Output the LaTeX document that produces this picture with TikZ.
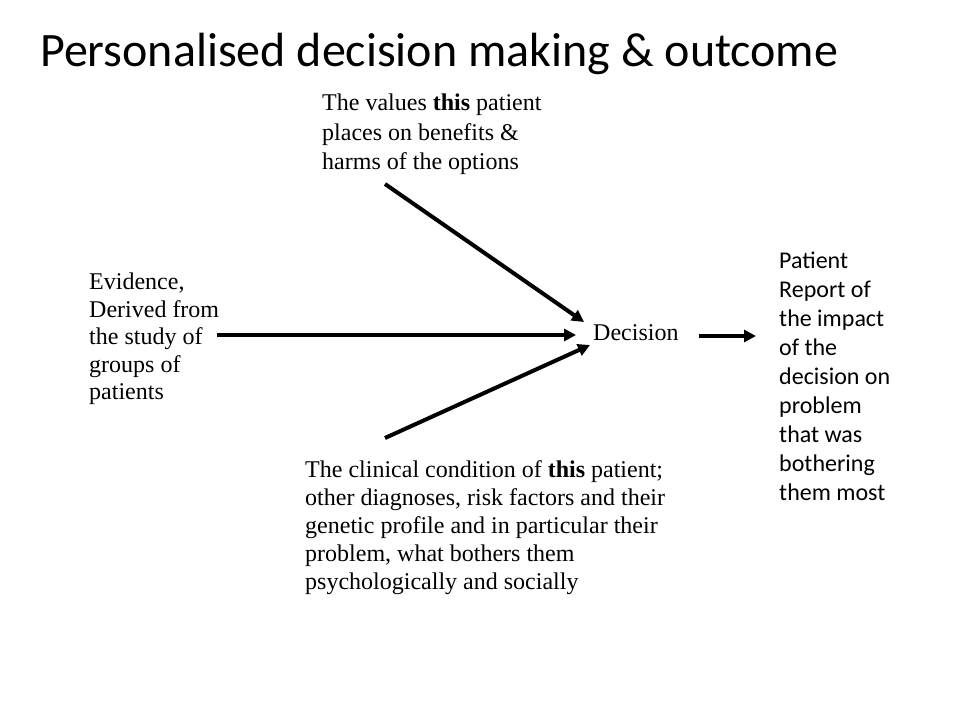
\documentclass[tikz,border=0pt]{standalone}
\usepackage{fontspec}
\setmainfont{Liberation Serif}
\newfontfamily\calibri{Carlito}
\usetikzlibrary{positioning, arrows.meta}

\begin{document}
\begin{tikzpicture}[x=1pt,y=-1pt]
    \tikzstyle{label} = [inner sep=0pt,anchor=north west,align=left]
    \tikzstyle{arr} = [line width=4pt,-{Triangle[length=12pt,width=12pt]}]

    \useasboundingbox (0,0) rectangle (960,720);

    \node (title) [inner sep=0pt,anchor=base west,font=\calibri\fontsize{48}{54}\selectfont] at (40,66) {Personalised decision making \& outcome};

    \node (values) [label,font=\fontsize{24}{29.5}\selectfont] at (322,94) {The values \textbf{this} patient\\places on benefits \&\\harms of the options};
    \node (evidence) [label,font=\fontsize{24}{27.5}\selectfont] at (89,273) {Evidence,\\Derived from\\the study of\\groups of\\patients};
    \node (clinical) [label,font=\fontsize{24}{28}\selectfont] at (305,460.5) {The clinical condition of \textbf{this} patient;\\other diagnoses, risk factors and their\\genetic profile and in particular their\\problem, what bothers them\\psychologically and socially};

    \node (decision) [inner sep=0pt,anchor=base west,font=\fontsize{24}{28}\selectfont] at (593,340) {Decision};
    \node (report) [label,font=\calibri\fontsize{24}{29}\selectfont] at (779,252) {Patient\\Report of\\the impact\\of the\\decision on\\problem\\that was\\bothering\\them most};

    \coordinate (vStart) at (385,184);
    \coordinate (vEnd) at (584,322);
    \coordinate (eStart) at (217,335);
    \coordinate (eEnd) at (576,335);
    \coordinate (cStart) at (385,438);
    \coordinate (cEnd) at (590,345);
    \coordinate (dOut) at (699,336);
    \coordinate (rIn) at (756,336);

    \draw [arr] (vStart) -- (vEnd);
    \draw [arr] (eStart) -- (eEnd);
    \draw [arr] (cStart) -- (cEnd);
    \draw [arr] (dOut) -- (rIn);

\end{tikzpicture}
\end{document}
